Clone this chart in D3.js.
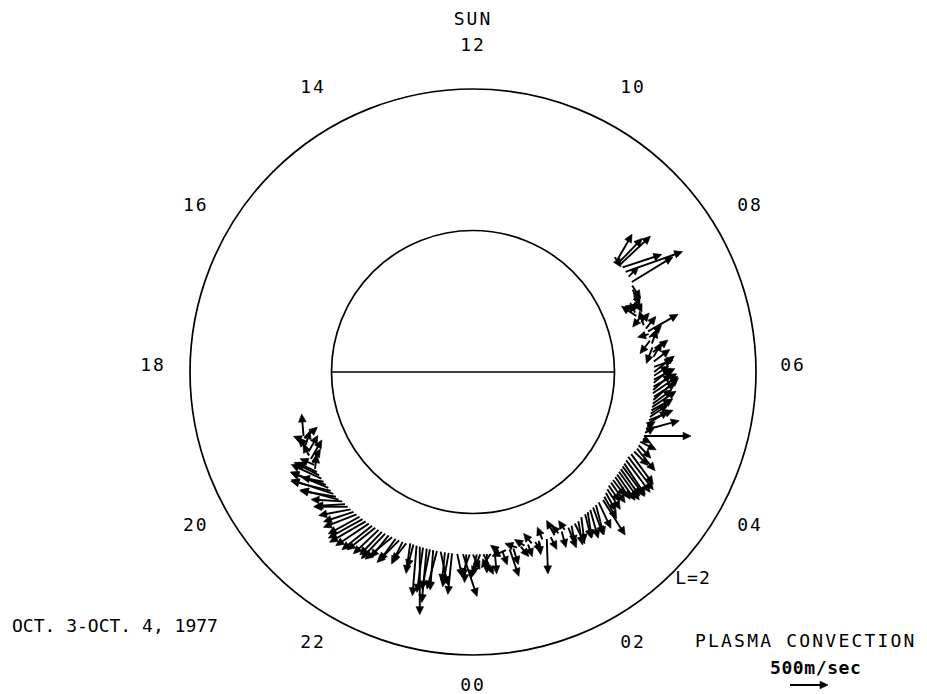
<!DOCTYPE html>
<html>
<head>
<meta charset="utf-8">
<script src="https://cdn.jsdelivr.net/npm/d3@7"></script>
<style>
  body { margin: 0; background: #fff; }
  text { font-family: "DejaVu Sans Mono", monospace; fill: #000; }
</style>
</head>
<body>
<svg id="chart" width="927" height="694"></svg>
<script>
// Local-time dial labels
const hourTicks  = [12, 14, 16, 18, 20, 22, 0, 2, 4, 6, 8, 10];
const hourLabels = ["12", "14", "16", "18", "20", "22", "00", "02", "04", "06", "08", "10"];

// Convection samples: local time (h), L-shell, sunward and dawnward drift (m/s)
const localTime = [
  19.38, 19.43, 19.50, 19.57, 19.64, 19.72, 19.80, 19.88, 19.95, 20.02,
  20.10, 20.18, 20.26, 20.34, 20.42, 20.50, 20.58, 20.66, 20.74, 20.82,
  20.90, 20.98, 21.06, 21.14, 21.22, 21.30, 21.38, 21.46, 21.54, 21.62,
  21.70, 21.78, 21.86, 21.94, 22.02, 22.10, 22.18, 22.26, 22.34, 22.42,
  22.50, 22.58, 22.66, 22.73, 22.80, 22.87, 22.94, 23.02, 23.09, 23.16,
  23.24, 23.32, 23.41, 23.49, 23.56, 23.67, 23.79, 23.86, 23.93, 0.00,
  0.08, 0.15, 0.22, 0.29, 0.37, 0.46, 0.54, 0.62, 0.70, 0.78,
  0.86, 0.94, 1.02, 1.10, 1.18, 1.26, 1.34, 1.42, 1.50, 1.59,
  1.68, 1.77, 1.86, 1.94, 2.01, 2.10, 2.18, 2.26, 2.35, 2.45,
  2.55, 2.62, 2.69, 2.77, 2.85, 2.93, 3.03, 3.10, 3.18, 3.26,
  3.34, 3.42, 3.49, 3.57, 3.64, 3.71, 3.78, 3.85, 3.92, 4.00,
  4.09, 4.17, 4.25, 4.33, 4.41, 4.49, 4.57, 4.63, 4.70, 4.77,
  4.84, 4.91, 4.98, 5.05, 5.12, 5.19, 5.26, 5.33, 5.41, 5.48,
  5.55, 5.62, 5.69, 5.77, 5.84, 5.92, 6.00, 6.11, 6.22, 6.32,
  6.42, 6.52, 6.60, 6.67, 6.74, 6.81, 6.87, 6.94, 7.02, 7.10,
  7.18, 7.26, 7.34, 7.42, 7.55, 7.70, 7.82, 7.90, 7.97, 8.10,
  8.22, 8.33, 8.41, 8.46, 8.52, 8.60
];
const lShell = [
  1.28, 1.28, 1.28, 1.29, 1.29, 1.29, 1.30, 1.30, 1.30, 1.30,
  1.31, 1.31, 1.31, 1.31, 1.31, 1.31, 1.31, 1.31, 1.31, 1.31,
  1.31, 1.30, 1.30, 1.30, 1.30, 1.30, 1.30, 1.30, 1.30, 1.30,
  1.30, 1.30, 1.30, 1.30, 1.30, 1.30, 1.30, 1.30, 1.30, 1.30,
  1.30, 1.30, 1.29, 1.29, 1.29, 1.29, 1.29, 1.29, 1.29, 1.29,
  1.29, 1.29, 1.29, 1.29, 1.29, 1.29, 1.29, 1.29, 1.29, 1.29,
  1.29, 1.29, 1.29, 1.29, 1.29, 1.28, 1.28, 1.28, 1.28, 1.28,
  1.28, 1.28, 1.28, 1.28, 1.28, 1.28, 1.28, 1.28, 1.28, 1.29,
  1.29, 1.29, 1.29, 1.29, 1.29, 1.29, 1.29, 1.29, 1.29, 1.28,
  1.28, 1.28, 1.28, 1.28, 1.28, 1.28, 1.29, 1.28, 1.27, 1.26,
  1.25, 1.25, 1.25, 1.25, 1.25, 1.25, 1.25, 1.25, 1.25, 1.25,
  1.25, 1.26, 1.27, 1.28, 1.28, 1.28, 1.29, 1.29, 1.29, 1.29,
  1.29, 1.29, 1.29, 1.29, 1.29, 1.29, 1.29, 1.29, 1.29, 1.29,
  1.28, 1.28, 1.28, 1.28, 1.28, 1.28, 1.28, 1.28, 1.28, 1.28,
  1.28, 1.28, 1.28, 1.27, 1.27, 1.27, 1.27, 1.26, 1.25, 1.24,
  1.23, 1.22, 1.22, 1.23, 1.24, 1.26, 1.27, 1.28, 1.29, 1.29,
  1.29, 1.29, 1.29, 1.29, 1.29, 1.29
];
const vSunward = [
  290, 145, 65, 185, 120, 210, 145, 250, 170, 80,
  185, 130, 170, 185, 55, 160, 210, 130, 185, 80,
  130, 25, -25, 0, -80, -130, -170, -225, -250, -275,
  -290, -315, -290, -315, -305, -330, -290, -290, -290, -290,
  -290, -235, -395, -305, -660, -895, -590, -710, -525, -525,
  -500, -435, -395, -445, -540, -305, -555, -370, -290, -195,
  -315, -265, -265, -250, -185, -290, 80, -185, -80, -355,
  -210, 55, -130, 80, -160, 130, -120, -185, 160, -460,
  -160, 195, 105, -210, 120, -265, -235, -265, -315, -330,
  -315, -340, -370, -355, -395, -340, -460, -290, -235, -265,
  -210, -265, -210, -290, -340, -370, -355, -395, -410, -420,
  -435, -395, -185, -290, -170, -105, -55, 0, 80, 120,
  65, 160, 130, 160, 195, 145, 210, 185, 290, 185,
  225, 210, 170, 195, 145, 130, 210, 90, 160, 185,
  160, -210, 185, -170, 160, -40, 225, 160, 185, 120,
  -105, 130, 130, 40, -80, -225, -200, -170, 330, 130,
  265, 170, 370, 315, 340, -130
];
const vDawnward = [
  -25, 170, -160, 55, -120, 120, -80, 145, 105, -185,
  25, -265, -330, -395, -290, -460, -500, -525, -555, -475,
  -500, -410, -395, -450, -420, -395, -435, -410, -450, -475,
  -435, -395, -370, -330, -290, -315, -235, -355, -210, -290,
  -145, -185, -55, -80, -55, 0, -80, -65, -105, -40,
  -130, 90, -40, -80, -55, 65, 185, -25, -105, 90,
  -80, -105, 130, 0, -120, 25, -105, 65, -185, 120,
  65, -160, 105, -130, 55, -105, 80, 25, -65, 15,
  80, -105, -90, 55, -80, 105, 40, 130, 55, 40,
  80, 55, 105, 130, 105, 160, 290, 160, 130, 170,
  145, 185, 160, 195, 235, 265, 250, 290, 275, 315,
  330, 290, 185, 235, 160, 210, 105, 620, 130, 435,
  105, 265, 315, 235, 290, 265, 315, 250, 330, 290,
  330, 235, 305, 225, 275, 195, 265, 250, 210, 105,
  195, -80, 65, -130, 160, -145, 395, 130, -55, 105,
  -80, -195, -65, -130, 80, 105, 95, 110, 540, 130,
  750, 515, 395, 305, 195, 80
];

const legendSpeed = 500; // m/s

const width = 927, height = 694;
const cx = 473, cy = 372;

const svg = d3.select("#chart");
svg.append("rect").attr("width", width).attr("height", height).attr("fill", "#fff");

// L-shell -> pixel radius, local time -> clockwise angle from noon at top
const rScale = d3.scaleLinear().domain([0, 2]).range([0, 283]);
const angle = d3.scaleLinear().domain([0, 24]).range([Math.PI, -Math.PI]);
const speed = d3.scaleLinear().domain([0, legendSpeed]).range([0, 38]);

const g = svg.append("g").attr("transform", `translate(${cx},${cy})`);

// Earth and L=2 shell
g.append("circle").attr("r", rScale(2)).attr("fill", "none").attr("stroke", "#000").attr("stroke-width", 1.7);
g.append("circle").attr("r", rScale(1)).attr("fill", "none").attr("stroke", "#000").attr("stroke-width", 1.7);
g.append("line")
  .attr("x1", -rScale(1)).attr("x2", rScale(1))
  .attr("y1", 0).attr("y2", 0)
  .attr("stroke", "#000").attr("stroke-width", 1.5);

// Local-time labels around the dial
const labelR = 320, labelShift = -8;
g.selectAll("text.hour")
  .data(hourTicks)
  .join("text")
  .attr("class", "hour")
  .attr("x", d => labelR * Math.sin(angle(d)))
  .attr("y", d => labelShift - labelR * Math.cos(angle(d)))
  .attr("text-anchor", "middle")
  .attr("dominant-baseline", "central")
  .attr("font-size", 18)
  .attr("letter-spacing", 2)
  .text((d, i) => hourLabels[i]);

g.append("text")
  .attr("x", 0).attr("y", labelShift - labelR - 26)
  .attr("text-anchor", "middle").attr("dominant-baseline", "central")
  .attr("font-size", 18).attr("letter-spacing", 2)
  .text("SUN");

// Drift vectors
const samples = localTime.map((t, i) => {
  const a = angle(t), r = rScale(lShell[i]);
  const x0 = r * Math.sin(a), y0 = -r * Math.cos(a);
  return {
    x0, y0,
    x1: x0 + speed(vDawnward[i]),
    y1: y0 - speed(vSunward[i])
  };
});

function drawArrow(sel, x0, y0, x1, y1) {
  const ang = Math.atan2(y1 - y0, x1 - x0);
  const len = Math.hypot(x1 - x0, y1 - y0);
  const hl = 8, hw = 3.8;
  const back = Math.max(0, len - hl * 0.6);
  sel.append("line")
    .attr("x1", x0).attr("y1", y0)
    .attr("x2", x0 + back * Math.cos(ang)).attr("y2", y0 + back * Math.sin(ang))
    .attr("stroke", "#000").attr("stroke-width", 1.9);
  sel.append("path")
    .attr("d", `M0,0L${-hl},${-hw}L${-hl},${hw}Z`)
    .attr("transform", `translate(${x1},${y1}) rotate(${ang * 180 / Math.PI})`)
    .attr("fill", "#000").attr("stroke", "#000").attr("stroke-width", 0.6);
}

const arrows = g.append("g").attr("class", "vectors");
samples.forEach(s => drawArrow(arrows.append("g"), s.x0, s.y0, s.x1, s.y1));

// Shell label
svg.append("text")
  .attr("x", 693).attr("y", 577)
  .attr("text-anchor", "middle").attr("dominant-baseline", "central")
  .attr("font-size", 18).attr("letter-spacing", 1)
  .text("L=2");

// Date
svg.append("text")
  .attr("x", 12).attr("y", 625)
  .attr("dominant-baseline", "central")
  .attr("font-size", 18).attr("letter-spacing", 0)
  .text("OCT. 3-OCT. 4, 1977");

// Scale legend
svg.append("text")
  .attr("x", 695).attr("y", 640)
  .attr("dominant-baseline", "central")
  .attr("font-size", 18).attr("letter-spacing", 2.2)
  .text("PLASMA CONVECTION");
svg.append("text")
  .attr("x", 770).attr("y", 667)
  .attr("dominant-baseline", "central")
  .attr("font-size", 18).attr("font-weight", "bold").attr("letter-spacing", 0.6)
  .text("500m/sec");
drawArrow(svg.append("g"), 790, 685, 790 + speed(legendSpeed), 685);
</script>
</body>
</html>
